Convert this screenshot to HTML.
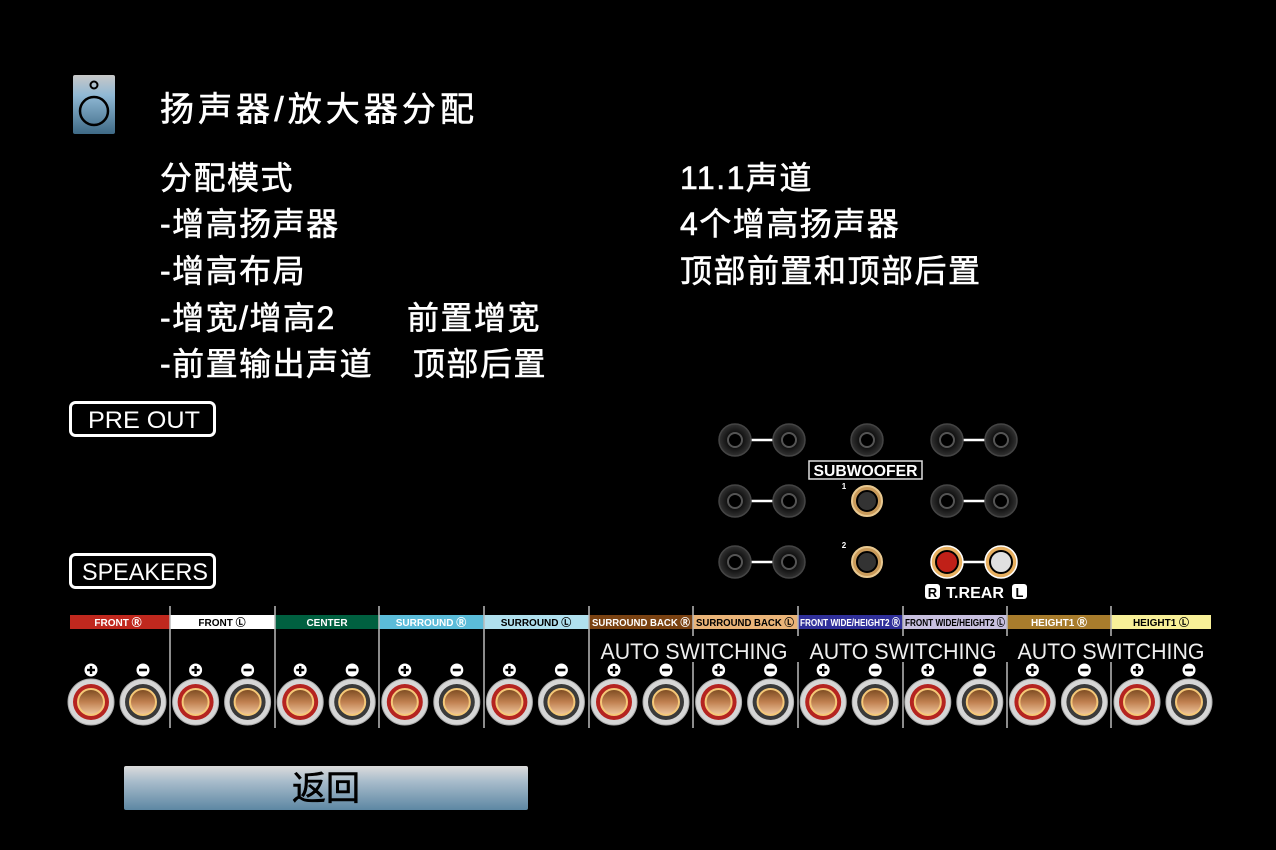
<!DOCTYPE html>
<html><head><meta charset="utf-8"><style>
html,body{margin:0;padding:0;background:#000;width:1276px;height:850px;overflow:hidden}
svg{display:block}
.cj{font-family:"Liberation Sans","Noto Sans CJK SC",sans-serif;fill:#fff;stroke:#fff;stroke-width:0.6}
.lb{font-family:"Liberation Sans",sans-serif;font-weight:bold;font-size:10px;text-anchor:middle}
</style></head><body>
<svg width="1276" height="850" viewBox="0 0 1276 850" xmlns="http://www.w3.org/2000/svg">
<defs>
<linearGradient id="ic" x1="0" y1="0" x2="0" y2="1"><stop offset="0" stop-color="#c8c8c8"/><stop offset="0.35" stop-color="#8fb8d4"/><stop offset="1" stop-color="#3f6a86"/></linearGradient>
<linearGradient id="bt" x1="0" y1="0" x2="0" y2="1"><stop offset="0" stop-color="#dcdcdc"/><stop offset="0.35" stop-color="#a8bccb"/><stop offset="1" stop-color="#5d87a3"/></linearGradient>
<linearGradient id="cu" x1="0" y1="0" x2="0" y2="1"><stop offset="0" stop-color="#7a4a20"/><stop offset="0.5" stop-color="#c08050"/><stop offset="1" stop-color="#f0c8a0"/></linearGradient>
<radialGradient id="jk" cx="0.5" cy="0.5" r="0.5"><stop offset="0" stop-color="#000"/><stop offset="0.5" stop-color="#111"/><stop offset="1" stop-color="#333"/></radialGradient>
<g id="tp"><circle r="23" fill="#d6d6d6" stroke="#aaa" stroke-width="1"/><circle r="18" fill="#b52420"/><circle r="13" fill="url(#cu)" stroke="#f5c878" stroke-width="2"/></g>
<g id="tm"><circle r="23" fill="#d6d6d6" stroke="#aaa" stroke-width="1"/><circle r="18" fill="#3a3a3a"/><circle r="13" fill="url(#cu)" stroke="#f5c878" stroke-width="2"/></g>
<g id="pl"><circle r="6.5" fill="#fff"/><rect x="-4" y="-1.2" width="8" height="2.4" fill="#000"/><rect x="-1.2" y="-4" width="2.4" height="8" fill="#000"/></g>
<g id="mi"><circle r="6.5" fill="#fff"/><rect x="-4" y="-1.3" width="8" height="2.6" fill="#000"/></g>
<g id="bj"><circle r="16" fill="url(#jk)" stroke="#444" stroke-width="1.5"/><circle r="7" fill="#000" stroke="#555" stroke-width="2"/></g>
</defs>

<rect x="73" y="75" width="42" height="59" rx="2" fill="url(#ic)"/>
<circle cx="94" cy="85" r="3.5" fill="none" stroke="#000" stroke-width="2"/>
<circle cx="94" cy="111" r="14" fill="none" stroke="#000" stroke-width="2.5"/>
<text class="cj" x="160" y="121" font-size="34" textLength="314" lengthAdjust="spacing">扬声器/放大器分配</text>

<g class="cj" font-size="32" letter-spacing="1.5">
<text x="160" y="189">分配模式</text>
<text x="160" y="235">-增高扬声器</text>
<text x="160" y="282">-增高布局</text>
<text x="160" y="329">-增宽/增高2</text>
<text x="407" y="329">前置增宽</text>
<text x="160" y="375">-前置输出声道</text>
<text x="413" y="375">顶部后置</text>
<text x="680" y="189">11.1声道</text>
<text x="680" y="235">4个增高扬声器</text>
<text x="680" y="282">顶部前置和顶部后置</text>
</g>

<rect x="70.5" y="402.5" width="144" height="33" rx="5" fill="none" stroke="#fff" stroke-width="3"/>
<text x="144" y="428" font-family="Liberation Sans,sans-serif" font-size="24" fill="#fff" text-anchor="middle" textLength="112" lengthAdjust="spacingAndGlyphs">PRE OUT</text>
<rect x="70.5" y="554.5" width="144" height="33" rx="5" fill="none" stroke="#fff" stroke-width="3"/>
<text x="145" y="580" font-family="Liberation Sans,sans-serif" font-size="24" fill="#fff" text-anchor="middle" textLength="126" lengthAdjust="spacingAndGlyphs">SPEAKERS</text>

<g stroke="#fff" stroke-width="2.5">
<line x1="735" y1="440" x2="789" y2="440"/><line x1="947" y1="440" x2="1001" y2="440"/>
<line x1="735" y1="501" x2="789" y2="501"/><line x1="947" y1="501" x2="1001" y2="501"/>
<line x1="735" y1="562" x2="789" y2="562"/><line x1="947" y1="562" x2="1001" y2="562"/>
</g>
<use href="#bj" x="735" y="440"/><use href="#bj" x="789" y="440"/><use href="#bj" x="867" y="440"/><use href="#bj" x="947" y="440"/><use href="#bj" x="1001" y="440"/>
<use href="#bj" x="735" y="501"/><use href="#bj" x="789" y="501"/><use href="#bj" x="947" y="501"/><use href="#bj" x="1001" y="501"/>
<use href="#bj" x="735" y="562"/><use href="#bj" x="789" y="562"/>
<circle cx="867" cy="501" r="15" fill="#c99a5a" stroke="#e8c890" stroke-width="2"/><circle cx="867" cy="501" r="10" fill="#333" stroke="#000" stroke-width="2"/>
<circle cx="867" cy="562" r="15" fill="#c99a5a" stroke="#e8c890" stroke-width="2"/><circle cx="867" cy="562" r="10" fill="#333" stroke="#000" stroke-width="2"/>
<circle cx="947" cy="562" r="16" fill="#e8b060" stroke="#fff" stroke-width="1.5"/><circle cx="947" cy="562" r="11" fill="#c02018" stroke="#000" stroke-width="2"/>
<circle cx="1001" cy="562" r="16" fill="#e8b060" stroke="#fff" stroke-width="1.5"/><circle cx="1001" cy="562" r="11" fill="#e0e0e0" stroke="#000" stroke-width="2"/>
<rect x="809" y="461" width="113" height="18" fill="#000" stroke="#ddd" stroke-width="1.5"/>
<text x="865.5" y="476" font-family="Liberation Sans,sans-serif" font-weight="bold" font-size="16" fill="#fff" text-anchor="middle" textLength="104" lengthAdjust="spacingAndGlyphs">SUBWOOFER</text>
<text x="844" y="489" font-family="Liberation Sans,sans-serif" font-weight="bold" font-size="8" fill="#fff" text-anchor="middle">1</text>
<text x="844" y="548" font-family="Liberation Sans,sans-serif" font-weight="bold" font-size="8" fill="#fff" text-anchor="middle">2</text>
<rect x="925" y="584" width="15" height="15" rx="3" fill="#fff"/><text x="932.5" y="597" font-family="Liberation Sans,sans-serif" font-weight="bold" font-size="13" fill="#000" text-anchor="middle">R</text>
<text x="975" y="598" font-family="Liberation Sans,sans-serif" font-weight="bold" font-size="16" fill="#fff" text-anchor="middle" textLength="58" lengthAdjust="spacingAndGlyphs">T.REAR</text>
<rect x="1012" y="584" width="15" height="15" rx="3" fill="#fff"/><text x="1019.5" y="597" font-family="Liberation Sans,sans-serif" font-weight="bold" font-size="13" fill="#000" text-anchor="middle">L</text>

<rect x="70" y="615" width="100" height="14" fill="#c0281e"/>
<rect x="170" y="615" width="105" height="14" fill="#fff"/>
<rect x="275" y="615" width="104" height="14" fill="#006040"/>
<rect x="379" y="615" width="105" height="14" fill="#5bbcd9"/>
<rect x="484" y="615" width="105" height="14" fill="#b0e0ee"/>
<rect x="589" y="615" width="104" height="14" fill="#7a4212"/>
<rect x="693" y="615" width="105" height="14" fill="#eab478"/>
<rect x="798" y="615" width="105" height="14" fill="#30309a"/>
<rect x="903" y="615" width="104" height="14" fill="#c8c0e0"/>
<rect x="1007" y="615" width="104" height="14" fill="#a87c2c"/>
<rect x="1111" y="615" width="100" height="14" fill="#f8f098"/>
<text class="lb" x="118" y="626" fill="#fff">FRONT Ⓡ</text>
<text class="lb" x="222" y="626" fill="#000">FRONT Ⓛ</text>
<text class="lb" x="327" y="626" fill="#fff">CENTER</text>
<text class="lb" x="431" y="626" fill="#fff">SURROUND Ⓡ</text>
<text class="lb" x="536" y="626" fill="#000">SURROUND Ⓛ</text>
<text class="lb" x="641" y="626" fill="#fff" textLength="98" lengthAdjust="spacingAndGlyphs">SURROUND BACK Ⓡ</text>
<text class="lb" x="745" y="626" fill="#000" textLength="98" lengthAdjust="spacingAndGlyphs">SURROUND BACK Ⓛ</text>
<text class="lb" x="850" y="626" fill="#fff" textLength="100" lengthAdjust="spacingAndGlyphs">FRONT WIDE/HEIGHT2 Ⓡ</text>
<text class="lb" x="955" y="626" fill="#000" textLength="100" lengthAdjust="spacingAndGlyphs">FRONT WIDE/HEIGHT2 Ⓛ</text>
<text class="lb" x="1059" y="626" fill="#fff">HEIGHT1 Ⓡ</text>
<text class="lb" x="1161" y="626" fill="#000">HEIGHT1 Ⓛ</text>

<g stroke="#bbb" stroke-width="1.5">
<line x1="170" y1="606" x2="170" y2="728"/><line x1="275" y1="606" x2="275" y2="728"/><line x1="379" y1="606" x2="379" y2="728"/><line x1="484" y1="606" x2="484" y2="728"/><line x1="589" y1="606" x2="589" y2="728"/><line x1="693" y1="606" x2="693" y2="728"/><line x1="798" y1="606" x2="798" y2="728"/><line x1="903" y1="606" x2="903" y2="728"/><line x1="1007" y1="606" x2="1007" y2="728"/><line x1="1111" y1="606" x2="1111" y2="728"/>
</g>
<rect x="595" y="636" width="625" height="26" fill="#000"/>
<g font-family="Liberation Sans,sans-serif" font-size="22" fill="#eee" text-anchor="middle">
<text x="694" y="659" textLength="187" lengthAdjust="spacingAndGlyphs">AUTO SWITCHING</text><text x="903" y="659" textLength="187" lengthAdjust="spacingAndGlyphs">AUTO SWITCHING</text><text x="1111" y="659" textLength="187" lengthAdjust="spacingAndGlyphs">AUTO SWITCHING</text>
</g>

<g>
<use href="#pl" x="91" y="670"/><use href="#mi" x="143" y="670"/><use href="#tp" x="91" y="702"/><use href="#tm" x="143" y="702"/>
<use href="#pl" x="195.6" y="670"/><use href="#mi" x="247.6" y="670"/><use href="#tp" x="195.6" y="702"/><use href="#tm" x="247.6" y="702"/>
<use href="#pl" x="300.2" y="670"/><use href="#mi" x="352.2" y="670"/><use href="#tp" x="300.2" y="702"/><use href="#tm" x="352.2" y="702"/>
<use href="#pl" x="404.8" y="670"/><use href="#mi" x="456.8" y="670"/><use href="#tp" x="404.8" y="702"/><use href="#tm" x="456.8" y="702"/>
<use href="#pl" x="509.4" y="670"/><use href="#mi" x="561.4" y="670"/><use href="#tp" x="509.4" y="702"/><use href="#tm" x="561.4" y="702"/>
<use href="#pl" x="614" y="670"/><use href="#mi" x="666" y="670"/><use href="#tp" x="614" y="702"/><use href="#tm" x="666" y="702"/>
<use href="#pl" x="718.6" y="670"/><use href="#mi" x="770.6" y="670"/><use href="#tp" x="718.6" y="702"/><use href="#tm" x="770.6" y="702"/>
<use href="#pl" x="823.2" y="670"/><use href="#mi" x="875.2" y="670"/><use href="#tp" x="823.2" y="702"/><use href="#tm" x="875.2" y="702"/>
<use href="#pl" x="927.8" y="670"/><use href="#mi" x="979.8" y="670"/><use href="#tp" x="927.8" y="702"/><use href="#tm" x="979.8" y="702"/>
<use href="#pl" x="1032.4" y="670"/><use href="#mi" x="1084.4" y="670"/><use href="#tp" x="1032.4" y="702"/><use href="#tm" x="1084.4" y="702"/>
<use href="#pl" x="1137" y="670"/><use href="#mi" x="1189" y="670"/><use href="#tp" x="1137" y="702"/><use href="#tm" x="1189" y="702"/>
</g>

<rect x="124" y="766" width="404" height="44" rx="2" fill="url(#bt)"/>
<text x="326" y="800" font-family="Liberation Sans,Noto Sans CJK SC,sans-serif" font-size="34" fill="#000" stroke="#000" stroke-width="0.6" text-anchor="middle">返回</text>
</svg>
</body></html>
